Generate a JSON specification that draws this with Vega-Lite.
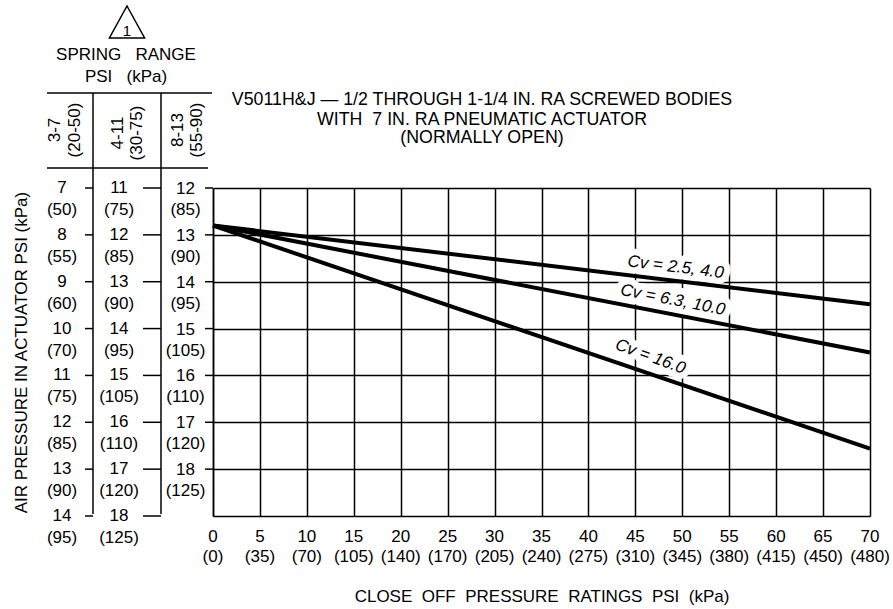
{
  "$schema": "https://vega.github.io/schema/vega-lite/v6.json",
  "width": 657,
  "height": 328,
  "autosize": {"type": "none"},
  "padding": {"left": 213, "top": 188, "right": 23, "bottom": 93},
  "background": "white",
  "config": {
    "font": "Liberation Sans",
    "view": {"stroke": null},
    "text": {"fontSize": 17, "color": "black"},
    "rule": {"color": "black", "strokeWidth": 1.5},
    "line": {"color": "black"}
  },
  "datasets": {
    "curves": [
      {"series": "Cv = 2.5, 4.0", "psi": 0, "air": 12.8},
      {"series": "Cv = 2.5, 4.0", "psi": 70, "air": 14.48},
      {"series": "Cv = 6.3, 10.0", "psi": 0, "air": 12.8},
      {"series": "Cv = 6.3, 10.0", "psi": 70, "air": 15.51},
      {"series": "Cv = 16.0", "psi": 0, "air": 12.8},
      {"series": "Cv = 16.0", "psi": 70, "air": 17.56}
    ],
    "labels": [
      {"series": "Cv = 2.5, 4.0", "psi": 49.3, "air": 13.69},
      {"series": "Cv = 6.3, 10.0", "psi": 49.0, "air": 14.39},
      {"series": "Cv = 16.0", "psi": 46.6, "air": 15.6}
    ],
    "xticks": [
      {"psi": 0, "kpa": "(0)"}, {"psi": 5, "kpa": "(35)"}, {"psi": 10, "kpa": "(70)"},
      {"psi": 15, "kpa": "(105)"}, {"psi": 20, "kpa": "(140)"}, {"psi": 25, "kpa": "(170)"},
      {"psi": 30, "kpa": "(205)"}, {"psi": 35, "kpa": "(240)"}, {"psi": 40, "kpa": "(275)"},
      {"psi": 45, "kpa": "(310)"}, {"psi": 50, "kpa": "(345)"}, {"psi": 55, "kpa": "(380)"},
      {"psi": 60, "kpa": "(415)"}, {"psi": 65, "kpa": "(450)"}, {"psi": 70, "kpa": "(480)"}
    ],
    "springs": [
      {"range": "3-7", "rangeKpa": "(20-50)", "psi": 7, "kpa": "(50)"},
      {"range": "3-7", "rangeKpa": "(20-50)", "psi": 8, "kpa": "(55)"},
      {"range": "3-7", "rangeKpa": "(20-50)", "psi": 9, "kpa": "(60)"},
      {"range": "3-7", "rangeKpa": "(20-50)", "psi": 10, "kpa": "(70)"},
      {"range": "3-7", "rangeKpa": "(20-50)", "psi": 11, "kpa": "(75)"},
      {"range": "3-7", "rangeKpa": "(20-50)", "psi": 12, "kpa": "(85)"},
      {"range": "3-7", "rangeKpa": "(20-50)", "psi": 13, "kpa": "(90)"},
      {"range": "3-7", "rangeKpa": "(20-50)", "psi": 14, "kpa": "(95)"},
      {"range": "4-11", "rangeKpa": "(30-75)", "psi": 11, "kpa": "(75)"},
      {"range": "4-11", "rangeKpa": "(30-75)", "psi": 12, "kpa": "(85)"},
      {"range": "4-11", "rangeKpa": "(30-75)", "psi": 13, "kpa": "(90)"},
      {"range": "4-11", "rangeKpa": "(30-75)", "psi": 14, "kpa": "(95)"},
      {"range": "4-11", "rangeKpa": "(30-75)", "psi": 15, "kpa": "(105)"},
      {"range": "4-11", "rangeKpa": "(30-75)", "psi": 16, "kpa": "(110)"},
      {"range": "4-11", "rangeKpa": "(30-75)", "psi": 17, "kpa": "(120)"},
      {"range": "4-11", "rangeKpa": "(30-75)", "psi": 18, "kpa": "(125)"},
      {"range": "8-13", "rangeKpa": "(55-90)", "psi": 12, "kpa": "(85)"},
      {"range": "8-13", "rangeKpa": "(55-90)", "psi": 13, "kpa": "(90)"},
      {"range": "8-13", "rangeKpa": "(55-90)", "psi": 14, "kpa": "(95)"},
      {"range": "8-13", "rangeKpa": "(55-90)", "psi": 15, "kpa": "(105)"},
      {"range": "8-13", "rangeKpa": "(55-90)", "psi": 16, "kpa": "(110)"},
      {"range": "8-13", "rangeKpa": "(55-90)", "psi": 17, "kpa": "(120)"},
      {"range": "8-13", "rangeKpa": "(55-90)", "psi": 18, "kpa": "(125)"}
    ],
    "heading": [
      {"title1": "V5011H&J — 1/2 THROUGH 1-1/4 IN. RA SCREWED BODIES",
       "title2": "WITH \u00a07 IN. RA PNEUMATIC ACTUATOR",
       "title3": "(NORMALLY OPEN)",
       "spring": "SPRING \u00a0\u00a0RANGE",
       "unit": "PSI \u00a0\u00a0(kPa)",
       "note": "1"}
    ]
  },
  "resolve": {"scale": {"y": "independent"}, "axis": {"x": "independent", "y": "independent"}},
  "layer": [
    {
      "data": {"name": "curves"},
      "mark": {"type": "line", "strokeWidth": 4, "color": "black", "opacity": 0},
      "encoding": {
        "x": {
          "field": "psi", "type": "quantitative",
          "scale": {"domain": [0, 70], "nice": false, "zero": false},
          "axis": {
            "values": [0, 5, 10, 15, 20, 25, 30, 35, 40, 45, 50, 55, 60, 65, 70],
            "grid": true, "gridColor": "black", "gridWidth": 1.5, "gridOpacity": 1,
            "labels": false, "ticks": false,
            "domain": true, "domainColor": "black", "domainWidth": 1.5,
            "title": "CLOSE \u00a0OFF \u00a0PRESSURE \u00a0RATINGS \u00a0PSI \u00a0(kPa)",
            "titleFontSize": 17, "titleFontWeight": "normal", "titleColor": "black",
            "titlePadding": 72
          }
        },
        "y": {
          "field": "air", "type": "quantitative",
          "scale": {"domain": [12, 19], "reverse": true, "nice": false, "zero": false},
          "axis": {
            "values": [12, 13, 14, 15, 16, 17, 18],
            "grid": true, "gridColor": "black", "gridWidth": 1.5, "gridOpacity": 1,
            "labels": false, "ticks": false,
            "domain": true, "domainColor": "black", "domainWidth": 1.5,
            "title": "AIR PRESSURE IN ACTUATOR PSI (kPa)",
            "titleFontSize": 17, "titleFontWeight": "normal", "titleColor": "black",
            "titlePadding": 183
          }
        },
        "detail": {"field": "series"}
      }
    },
    {
      "data": {"name": "labels"},
      "transform": [{"filter": "datum.series === 'Cv = 2.5, 4.0'"}],
      "encoding": {
        "x": {"field": "psi", "type": "quantitative", "axis": null},
        "y": {"field": "air", "type": "quantitative", "scale": {"domain": [12, 19], "reverse": true, "nice": false, "zero": false}, "axis": null},
        "text": {"field": "series"}
      },
      "layer": [
        {"mark": {"type": "text", "angle": 7, "fontStyle": "italic", "fill": "white", "stroke": "white", "strokeWidth": 13, "strokeJoin": "round"}},
        {"mark": {"type": "text", "angle": 7, "fontStyle": "italic"}}
      ]
    },
    {
      "data": {"name": "labels"},
      "transform": [{"filter": "datum.series === 'Cv = 6.3, 10.0'"}],
      "encoding": {
        "x": {"field": "psi", "type": "quantitative", "axis": null},
        "y": {"field": "air", "type": "quantitative", "scale": {"domain": [12, 19], "reverse": true, "nice": false, "zero": false}, "axis": null},
        "text": {"field": "series"}
      },
      "layer": [
        {"mark": {"type": "text", "angle": 11, "fontStyle": "italic", "fill": "white", "stroke": "white", "strokeWidth": 13, "strokeJoin": "round"}},
        {"mark": {"type": "text", "angle": 11, "fontStyle": "italic"}}
      ]
    },
    {
      "data": {"name": "labels"},
      "transform": [{"filter": "datum.series === 'Cv = 16.0'"}],
      "encoding": {
        "x": {"field": "psi", "type": "quantitative", "axis": null},
        "y": {"field": "air", "type": "quantitative", "scale": {"domain": [12, 19], "reverse": true, "nice": false, "zero": false}, "axis": null},
        "text": {"field": "series"}
      },
      "layer": [
        {"mark": {"type": "text", "angle": 20, "fontStyle": "italic", "fill": "white", "stroke": "white", "strokeWidth": 13, "strokeJoin": "round"}},
        {"mark": {"type": "text", "angle": 20, "fontStyle": "italic"}}
      ]
    },
    {
      "data": {"name": "curves"},
      "mark": {"type": "line", "strokeWidth": 4, "color": "black"},
      "encoding": {
        "x": {"field": "psi", "type": "quantitative", "axis": null},
        "y": {"field": "air", "type": "quantitative", "scale": {"domain": [12, 19], "reverse": true, "nice": false, "zero": false}, "axis": null},
        "detail": {"field": "series"}
      }
    },
    {
      "data": {"name": "xticks"},
      "encoding": {
        "x": {"field": "psi", "type": "quantitative", "axis": null},
        "y": {"datum": 19, "type": "quantitative", "scale": {"domain": [12, 19], "reverse": true, "nice": false, "zero": false}, "axis": null}
      },
      "layer": [
        {"mark": {"type": "text", "dy": 21}, "encoding": {"text": {"field": "psi", "type": "quantitative"}}},
        {"mark": {"type": "text", "dy": 41}, "encoding": {"text": {"field": "kpa"}}}
      ]
    },
    {
      "data": {"name": "heading"},
      "encoding": {
        "x": {"datum": 0, "type": "quantitative", "axis": null},
        "y": {"datum": 12, "type": "quantitative", "scale": {"domain": [12, 19], "reverse": true, "nice": false, "zero": false}, "axis": null}
      },
      "layer": [
        {"mark": {"type": "text", "dx": 269, "dy": -88, "fontSize": 17.8}, "encoding": {"text": {"field": "title1"}}},
        {"mark": {"type": "text", "dx": 269, "dy": -68, "fontSize": 17.8}, "encoding": {"text": {"field": "title2"}}},
        {"mark": {"type": "text", "dx": 269, "dy": -50, "fontSize": 17.8}, "encoding": {"text": {"field": "title3"}}},
        {"mark": {"type": "text", "dx": -87, "dy": -133}, "encoding": {"text": {"field": "spring"}}},
        {"mark": {"type": "text", "dx": -87, "dy": -111}, "encoding": {"text": {"field": "unit"}}},
        {"mark": {"type": "text", "dx": -86, "dy": -157, "fontSize": 15}, "encoding": {"text": {"field": "note"}}},
        {"mark": {"type": "point", "shape": "M0,-1L1.1,1L-1.1,1Z", "size": 1024, "filled": false, "stroke": "black", "strokeWidth": 1.5, "opacity": 1, "xOffset": -86, "yOffset": -166}},
        {"mark": {"type": "rule", "xOffset": -166, "x2Offset": -1, "yOffset": -95}, "encoding": {"x2": {"datum": 0}}},
        {"mark": {"type": "rule", "xOffset": -166, "x2Offset": -5, "yOffset": -20}, "encoding": {"x2": {"datum": 0}}}
      ]
    },
    {
      "data": {"name": "springs"},
      "transform": [{"filter": "datum.range === '3-7'"}],
      "encoding": {
        "x": {"datum": 0, "type": "quantitative", "axis": null}
      },
      "layer": [
        {"mark": {"type": "text", "dx": -151, "dy": 0},
         "encoding": {"y": {"field": "psi", "type": "quantitative", "scale": {"domain": [7, 14], "reverse": true, "nice": false, "zero": false}, "axis": null}, "text": {"field": "psi", "type": "quantitative"}}},
        {"mark": {"type": "text", "dx": -151, "dy": 22},
         "encoding": {"y": {"field": "psi", "type": "quantitative", "scale": {"domain": [7, 14], "reverse": true, "nice": false, "zero": false}, "axis": null}, "text": {"field": "kpa"}}},
        {"mark": {"type": "rule", "xOffset": -128, "x2Offset": -120},
         "encoding": {"x2": {"datum": 0}, "y": {"field": "psi", "type": "quantitative", "scale": {"domain": [7, 14], "reverse": true, "nice": false, "zero": false}, "axis": null}}},
        {"mark": {"type": "rule", "xOffset": -120, "yOffset": -95, "y2Offset": -2},
         "encoding": {"y": {"aggregate": "min", "field": "psi", "type": "quantitative", "scale": {"domain": [7, 14], "reverse": true, "nice": false, "zero": false}, "axis": null}, "y2": {"aggregate": "max", "field": "psi"}}},
        {"mark": {"type": "text", "angle": 270, "dx": 58, "dy": -158},
         "encoding": {"y": {"aggregate": "min", "field": "psi", "type": "quantitative", "scale": {"domain": [7, 14], "reverse": true, "nice": false, "zero": false}, "axis": null}, "text": {"field": "range"}}},
        {"mark": {"type": "text", "angle": 270, "dx": 58, "dy": -138},
         "encoding": {"y": {"aggregate": "min", "field": "psi", "type": "quantitative", "scale": {"domain": [7, 14], "reverse": true, "nice": false, "zero": false}, "axis": null}, "text": {"field": "rangeKpa"}}}
      ]
    },
    {
      "data": {"name": "springs"},
      "transform": [{"filter": "datum.range === '4-11'"}],
      "encoding": {
        "x": {"datum": 0, "type": "quantitative", "axis": null}
      },
      "layer": [
        {"mark": {"type": "text", "dx": -94, "dy": 0},
         "encoding": {"y": {"field": "psi", "type": "quantitative", "scale": {"domain": [11, 18], "reverse": true, "nice": false, "zero": false}, "axis": null}, "text": {"field": "psi", "type": "quantitative"}}},
        {"mark": {"type": "text", "dx": -94, "dy": 22},
         "encoding": {"y": {"field": "psi", "type": "quantitative", "scale": {"domain": [11, 18], "reverse": true, "nice": false, "zero": false}, "axis": null}, "text": {"field": "kpa"}}},
        {"mark": {"type": "rule", "xOffset": -70, "x2Offset": -52},
         "encoding": {"x2": {"datum": 0}, "y": {"field": "psi", "type": "quantitative", "scale": {"domain": [11, 18], "reverse": true, "nice": false, "zero": false}, "axis": null}}},
        {"mark": {"type": "rule", "xOffset": -52, "yOffset": -95, "y2Offset": -2},
         "encoding": {"y": {"aggregate": "min", "field": "psi", "type": "quantitative", "scale": {"domain": [11, 18], "reverse": true, "nice": false, "zero": false}, "axis": null}, "y2": {"aggregate": "max", "field": "psi"}}},
        {"mark": {"type": "text", "angle": 270, "dx": 55, "dy": -95},
         "encoding": {"y": {"aggregate": "min", "field": "psi", "type": "quantitative", "scale": {"domain": [11, 18], "reverse": true, "nice": false, "zero": false}, "axis": null}, "text": {"field": "range"}}},
        {"mark": {"type": "text", "angle": 270, "dx": 55, "dy": -76},
         "encoding": {"y": {"aggregate": "min", "field": "psi", "type": "quantitative", "scale": {"domain": [11, 18], "reverse": true, "nice": false, "zero": false}, "axis": null}, "text": {"field": "rangeKpa"}}}
      ]
    },
    {
      "data": {"name": "springs"},
      "transform": [{"filter": "datum.range === '8-13'"}],
      "encoding": {
        "x": {"datum": 0, "type": "quantitative", "axis": null}
      },
      "layer": [
        {"mark": {"type": "text", "dx": -27.5, "dy": 1},
         "encoding": {"y": {"field": "psi", "type": "quantitative", "scale": {"domain": [12, 19], "reverse": true, "nice": false, "zero": false}, "axis": null}, "text": {"field": "psi", "type": "quantitative"}}},
        {"mark": {"type": "text", "dx": -27.5, "dy": 22},
         "encoding": {"y": {"field": "psi", "type": "quantitative", "scale": {"domain": [12, 19], "reverse": true, "nice": false, "zero": false}, "axis": null}, "text": {"field": "kpa"}}},
        {"mark": {"type": "rule", "xOffset": -8, "x2Offset": 0},
         "encoding": {"x2": {"datum": 0}, "y": {"field": "psi", "type": "quantitative", "scale": {"domain": [12, 19], "reverse": true, "nice": false, "zero": false}, "axis": null}}},
        {"mark": {"type": "text", "angle": 270, "dx": 58, "dy": -35},
         "encoding": {"y": {"aggregate": "min", "field": "psi", "type": "quantitative", "scale": {"domain": [12, 19], "reverse": true, "nice": false, "zero": false}, "axis": null}, "text": {"field": "range"}}},
        {"mark": {"type": "text", "angle": 270, "dx": 58, "dy": -16},
         "encoding": {"y": {"aggregate": "min", "field": "psi", "type": "quantitative", "scale": {"domain": [12, 19], "reverse": true, "nice": false, "zero": false}, "axis": null}, "text": {"field": "rangeKpa"}}}
      ]
    }
  ]
}
